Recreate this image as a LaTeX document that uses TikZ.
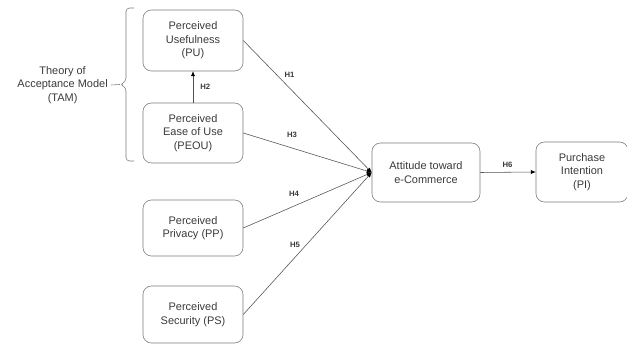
\documentclass[tikz,border=0pt]{standalone}
\usepackage{fontspec}
\setmainfont{Liberation Sans}
\usepackage{xcolor}
\usepackage{tikz}
\usetikzlibrary{arrows.meta}
\definecolor{boxgray}{HTML}{7A7A7A}
\definecolor{linegray}{HTML}{505050}
\definecolor{txtgray}{HTML}{3A3A3A}

\begin{document}
\begin{tikzpicture}[x=0.025cm,y=-0.025cm,
        box/.style={draw=boxgray,rounded corners=6pt,align=center,text=txtgray,
            font=\fontsize{7.8}{9.6}\selectfont,minimum width=2.5cm,inner sep=0pt},
        hyp/.style={font=\bfseries\fontsize{5.5}{6}\selectfont,inner sep=0pt,text=txtgray},
        link/.style={draw=linegray,-{Latex[length=3.5pt,width=3pt,color=black]}}]
        \useasboundingbox (0,0) rectangle (627,347);
        \clip (0,0) rectangle (627,347);

        \node[box,minimum height=1.525cm] (pu) at (193,40.5) {Perceived\\Usefulness\\(PU)};
        \node[box,minimum height=1.5cm] (peou) at (193,133) {Perceived\\Ease of Use\\(PEOU)};
        \node[box,minimum height=1.4cm] (pp) at (193,228) {Perceived\\Privacy (PP)};
        \node[box,minimum height=1.425cm] (ps) at (193,314.5) {Perceived\\Security (PS)};
        \node[box,minimum height=1.475cm,minimum width=2.7cm] (att) at (426,172.5) {Attitude toward\\e-Commerce};
        \node[box,minimum height=1.5cm,minimum width=2.3cm] (pi) at (582,172) {Purchase\\Intention\\(PI)};

        % TAM bracket
        \node[align=center,anchor=east,inner sep=0pt,text=txtgray,font=\fontsize{7.8}{9.6}\selectfont] (tam) at (108,85) {Theory of\\Acceptance Model\\(TAM)};
        \coordinate (tip) at (120,84.5);
        \draw[boxgray,rounded corners=2.5pt] (134,8) -- (126,8) -- (126,81.5) -- (tip) -- (126,87.5) -- (126,161) -- (134,161);
        \draw[boxgray] ([xshift=2pt]tam.east) -- (tip);

        \draw[link] (peou.north) -- node[hyp,right=5pt]{H2} (pu.south);
        \draw[link] (pu.east) -- node[hyp,pos=0.36,above=7pt]{H1} (att.west);
        \draw[link] (peou.east) -- node[hyp,pos=0.38,above=7.5pt]{H3} (att.west);
        \draw[link] (pp.east) -- node[hyp,pos=0.395,above=6.4pt]{H4} (att.west);
        \draw[link] (ps.east) -- node[hyp,pos=0.403,above=6.8pt]{H5} (att.west);
        \draw[link] (att.east) -- node[hyp,pos=0.49,above=3pt]{H6} (pi.west);
    \end{tikzpicture}
\end{document}
